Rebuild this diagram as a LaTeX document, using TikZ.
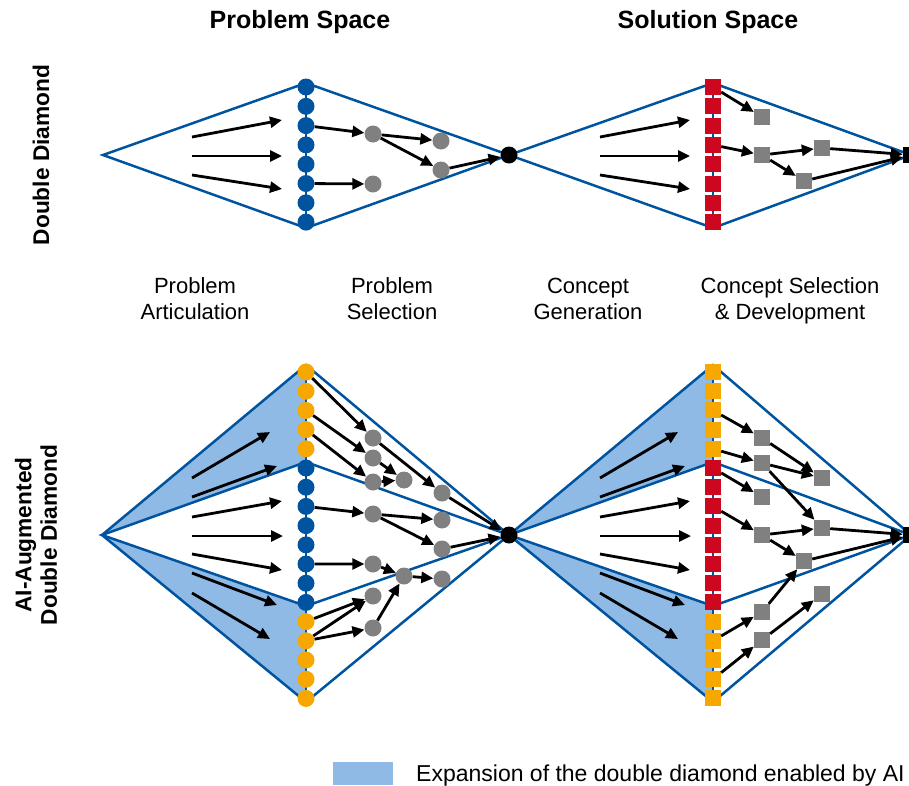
\documentclass[tikz,border=0pt]{standalone}
\usepackage{fontspec}
\setmainfont{Liberation Sans}
\usepackage{xcolor}
\usetikzlibrary{arrows.meta}

\definecolor{ddblue}{RGB}{0,84,159}
\definecolor{ddlight}{RGB}{142,186,229}
\definecolor{ddorange}{RGB}{246,168,0}
\definecolor{ddred}{RGB}{204,7,30}
\definecolor{ddgray}{RGB}{128,128,128}

\tikzset{
  outline/.style={draw=ddblue, line width=2.5pt, line join=miter},
  spine/.style={draw=ddblue, line width=1.6pt},
  ball/.style={circle, fill=#1, inner sep=0pt, minimum size=17pt},
  block/.style={rectangle, fill=#1, inner sep=0pt, minimum size=16pt},
  arr/.style={-{Triangle[length=12pt,width=11pt]}, line width=2.8pt, black},
  headtext/.style={font=\fontsize{25}{30}\selectfont\bfseries},
  sidetext/.style={font=\fontsize{22.7}{25.5}\selectfont\bfseries, rotate=90, align=center},
  phasetext/.style={font=\fontsize{22}{26}\selectfont, align=center},
}

\begin{document}
\begin{tikzpicture}[x=1pt,y=-1pt]
    \useasboundingbox (0,0) rectangle (909,785);

    % Headings
    \node[headtext] (hprob) at (300,22) {Problem Space};
    \node[headtext] (hsol) at (708,22) {Solution Space};
    \node[sidetext] (sdd) at (41,155) {Double Diamond};
    \node[sidetext] (sai) at (36,535) {AI-Augmented\\Double Diamond};

    % Phase names
    \node[phasetext] (ph1) at (195,299) {Problem\\Articulation};
    \node[phasetext] (ph2) at (392,299) {Problem\\Selection};
    \node[phasetext] (ph3) at (588,299) {Concept\\Generation};
    \node[phasetext] (ph4) at (790,301) {Concept Selection\\\& Development};

    %%%% Double diamond
    \coordinate (tl) at (103,155);
    \coordinate (tt1) at (306,83);
    \coordinate (tb1) at (306,228);
    \coordinate (tm) at (509,155);
    \coordinate (tt2) at (713,83);
    \coordinate (tb2) at (713,228);
    \coordinate (tr) at (911,155);
    \draw[outline] (tl) -- (tt1) -- (tm) -- (tb1) -- cycle;
    \draw[outline] (tm) -- (tt2) -- (tr) -- (tb2) -- cycle;
    \draw[spine] (tt1) -- (tb1);
    \draw[spine] (tt2) -- (tb2);

    \foreach \i in {0,...,7} {
      \node[ball=ddblue] (pd\i) at (306,87+19.3*\i) {};
      \node[block=ddred] (sd\i) at (713,87+19.3*\i) {};
    }

    % Diverging arrows
    \foreach \ax/\ay/\bx/\by [count=\k] in {192/137/282/120, 192/156/282/156, 192/175/282/189} {
      \coordinate (fa\k) at (\ax,\ay);
      \coordinate (fb\k) at (\bx,\by);
      \coordinate (ga\k) at (\ax+408,\ay);
      \coordinate (gb\k) at (\bx+408,\by);
      \draw[arr] (fa\k) -- (fb\k);
      \draw[arr] (ga\k) -- (gb\k);
    }

    \node[ball=ddgray] (g1) at (373,134) {};
    \node[ball=ddgray] (g2) at (441,141) {};
    \node[ball=ddgray] (g3) at (441,170) {};
    \node[ball=ddgray] (g4) at (373,184) {};
    \node[ball=black] (tj) at (tm) {};

    \node[block=ddgray] (s1) at (762,117) {};
    \node[block=ddgray] (s2) at (762,155) {};
    \node[block=ddgray] (s3) at (822,148) {};
    \node[block=ddgray] (s4) at (804,181) {};
    \node[block=black] (te) at (tr) {};

    \draw[arr] (pd2) -- (g1);
    \draw[arr] (g1) -- (g2);
    \draw[arr] (g1) -- (g3);
    \draw[arr] (g3) -- (tj);
    \draw[arr] (pd5) -- (g4);
    \draw[arr] (sd0) -- (s1);
    \draw[arr] (sd3) -- (s2);
    \draw[arr] (s2) -- (s3);
    \draw[arr] (s2) -- (s4);
    \draw[arr] (s3) -- (te);
    \draw[arr] (s4) -- (te);

    %%%% AI-augmented double diamond
    \coordinate (bl) at (102,535);
    \coordinate (bt1) at (306,365);
    \coordinate (bu1) at (306,462);
    \coordinate (bv1) at (306,606);
    \coordinate (bb1) at (306,702);
    \coordinate (bm) at (509,535);
    \coordinate (bt2) at (713,365);
    \coordinate (bu2) at (713,462);
    \coordinate (bv2) at (713,606);
    \coordinate (bb2) at (713,702);
    \coordinate (br) at (911,535);

    % Expansion by AI
    \fill[ddlight] (bl) -- (bt1) -- (bu1) -- cycle;
    \fill[ddlight] (bl) -- (bv1) -- (bb1) -- cycle;
    \fill[ddlight] (bm) -- (bt2) -- (bu2) -- cycle;
    \fill[ddlight] (bm) -- (bv2) -- (bb2) -- cycle;

    \draw[outline] (bl) -- (bt1) -- (bm) -- (bb1) -- cycle;
    \draw[outline] (bl) -- (bu1) -- (bm) -- (bv1) -- cycle;
    \draw[outline] (bm) -- (bt2) -- (br) -- (bb2) -- cycle;
    \draw[outline] (bm) -- (bu2) -- (br) -- (bv2) -- cycle;
    \draw[spine] (bt1) -- (bb1);
    \draw[spine] (bt2) -- (bb2);

    \foreach \i in {0,1,2,3,4,13,14,15,16,17} {
      \node[ball=ddorange] (ad\i) at (306,372+19.2*\i) {};
      \node[block=ddorange] (ae\i) at (713,372+19.2*\i) {};
    }
    \foreach \i in {5,...,12} {
      \node[ball=ddblue] (ad\i) at (306,372+19.2*\i) {};
      \node[block=ddred] (ae\i) at (713,372+19.2*\i) {};
    }

    % Diverging arrows
    \foreach \ax/\ay/\bx/\by [count=\k] in {192/478/270/432, 192/497/277/466, 192/517/282/501,
        192/536/283/536, 192/554/282/570, 192/573/277/605, 192/593/270/639} {
      \coordinate (ha\k) at (\ax,\ay);
      \coordinate (hb\k) at (\bx,\by);
      \coordinate (ka\k) at (\ax+408,\ay);
      \coordinate (kb\k) at (\bx+408,\by);
      \draw[arr] (ha\k) -- (hb\k);
      \draw[arr] (ka\k) -- (kb\k);
    }

    \node[ball=ddgray] (c1) at (373,438) {};
    \node[ball=ddgray] (c2) at (373,458) {};
    \node[ball=ddgray] (c3) at (373,482) {};
    \node[ball=ddgray] (c4) at (404,480) {};
    \node[ball=ddgray] (c5) at (442,493) {};
    \node[ball=ddgray] (c6) at (373,514) {};
    \node[ball=ddgray] (c7) at (442,520) {};
    \node[ball=ddgray] (c8) at (442,549) {};
    \node[ball=ddgray] (c9) at (373,564) {};
    \node[ball=ddgray] (c10) at (404,576) {};
    \node[ball=ddgray] (c11) at (442,579) {};
    \node[ball=ddgray] (c12) at (373,596) {};
    \node[ball=ddgray] (c13) at (373,628) {};
    \node[ball=black] (bj) at (bm) {};

    \draw[arr] (ad0) -- (c1);
    \draw[arr] (ad2) -- (c2);
    \draw[arr] (ad3) -- (c3);
    \draw[arr] (c1) -- (c5);
    \draw[arr] (c2) -- (c4);
    \draw[arr] (c3) -- (c4);
    \draw[arr] (c5) -- (bj);
    \draw[arr] (ad7) -- (c6);
    \draw[arr] (c6) -- (c7);
    \draw[arr] (c6) -- (c8);
    \draw[arr] (c8) -- (bj);
    \draw[arr] (ad10) -- (c9);
    \draw[arr] (c9) -- (c10);
    \draw[arr] (c10) -- (c11);
    \draw[arr] (ad13) -- (c12);
    \draw[arr] (ad14) -- (c12);
    \draw[arr] (ad14) -- (c13);
    \draw[arr] (c13) -- (c10);

    \node[block=ddgray] (q1) at (762,438) {};
    \node[block=ddgray] (q2) at (762,463) {};
    \node[block=ddgray] (q3) at (822,478) {};
    \node[block=ddgray] (q4) at (762,497) {};
    \node[block=ddgray] (q5) at (822,528) {};
    \node[block=ddgray] (q6) at (762,535) {};
    \node[block=ddgray] (q7) at (804,561) {};
    \node[block=ddgray] (q8) at (822,594) {};
    \node[block=ddgray] (q9) at (762,612) {};
    \node[block=ddgray] (q10) at (762,640) {};
    \node[block=black] (be) at (br) {};

    \draw[arr] (ae2) -- (q1);
    \draw[arr] (ae4) -- (q2);
    \draw[arr] (q1) -- (q3);
    \draw[arr] (q2) -- (q3);
    \draw[arr] (q2) -- (q5);
    \draw[arr] (ae5) -- (q4);
    \draw[arr] (ae7) -- (q6);
    \draw[arr] (q6) -- (q5);
    \draw[arr] (q6) -- (q7);
    \draw[arr] (q5) -- (be);
    \draw[arr] (q7) -- (be);
    \draw[arr] (ae14) -- (q9);
    \draw[arr] (ae16) -- (q10);
    \draw[arr] (q9) -- (q7);
    \draw[arr] (q10) -- (q8);

    % Legend
    \node[fill=ddlight, minimum width=60pt, minimum height=23pt, inner sep=0pt] (key) at (363,773.5) {};
    \node[anchor=base west, inner sep=0pt, font=\fontsize{23}{27}\selectfont] (keytext) at (416,781)
      {Expansion of the double diamond enabled by AI};
\end{tikzpicture}
\end{document}
